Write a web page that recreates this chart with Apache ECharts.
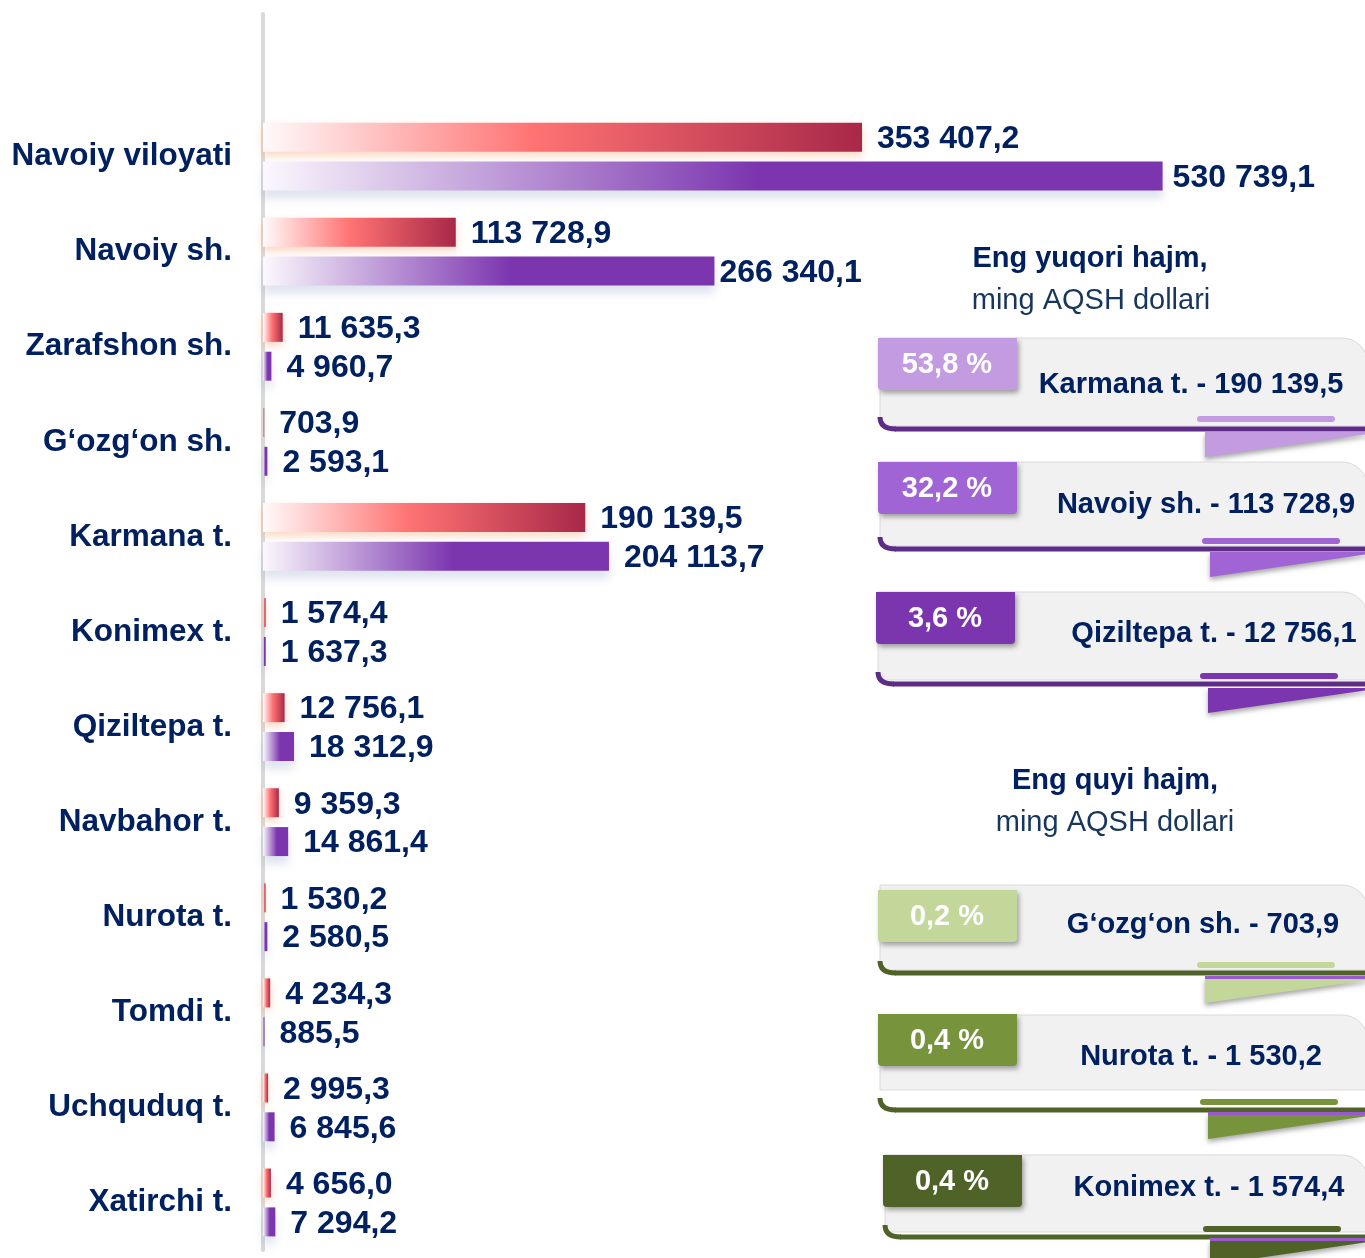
<!DOCTYPE html>
<html>
<head>
<meta charset="utf-8">
<title>Navoiy viloyati</title>
<script src="https://cdn.jsdelivr.net/npm/echarts@6/dist/echarts.min.js"></script>
<style>
  html, body { margin: 0; padding: 0; background: #ffffff; }
  #chart { width: 1365px; height: 1258px; }
</style>
</head>
<body>
<div id="chart"></div>
<script>
// Regions, top to bottom
const regions = [
  'Navoiy viloyati', 'Navoiy sh.', 'Zarafshon sh.', 'G‘ozg‘on sh.', 'Karmana t.',
  'Konimex t.', 'Qiziltepa t.', 'Navbahor t.', 'Nurota t.', 'Tomdi t.',
  'Uchquduq t.', 'Xatirchi t.'
];
// First (red) series, ming AQSH dollari
const volumeRed = [
  353407.2, 113728.9, 11635.3, 703.9, 190139.5,
  1574.4, 12756.1, 9359.3, 1530.2, 4234.3,
  2995.3, 4656.0
];
// Second (purple) series, ming AQSH dollari
const volumePurple = [
  530739.1, 266340.1, 4960.7, 2593.1, 204113.7,
  1637.3, 18312.9, 14861.4, 2580.5, 885.5,
  6845.6, 7294.2
];
// Highlighted regions for the side cards
const highestNames = ['Karmana t.', 'Navoiy sh.', 'Qiziltepa t.'];
const lowestNames = ['G‘ozg‘on sh.', 'Nurota t.', 'Konimex t.'];
const cardTitles = ['Eng yuqori hajm,', 'Eng quyi hajm,'];
const cardSubtitle = 'ming AQSH dollari';

const NAVY = '#002060';
const FONT = '"Liberation Sans", Arial, sans-serif';

function fmt(v) {
  const parts = v.toFixed(1).split('.');
  return parts[0].replace(/\B(?=(\d{3})+(?!\d))/g, ' ') + ',' + parts[1];
}
function pct(v) {
  return (v / volumeRed[0] * 100).toFixed(1).replace('.', ',') + ' %';
}

// labels of the two longest purple bars sit a little closer to the bar end
const purpleLabelGap = { 'Navoiy viloyati': 10, 'Navoiy sh.': 5 };

// empty band on top keeps the axis line running up to the top of the page
const yCats = [''].concat(regions);
const redData = [null].concat(volumeRed);
const purpleData = [null].concat(volumePurple.map((v, i) => {
  const gap = purpleLabelGap[regions[i]];
  return gap == null ? v : { value: v, label: { distance: gap } };
}));

const redGradient = new echarts.graphic.LinearGradient(0, 0, 1, 0, [
  { offset: 0, color: '#fffafa' },
  { offset: 0.45, color: '#ff7373' },
  { offset: 1, color: '#a82848' }
]);
const purpleGradient = new echarts.graphic.LinearGradient(0, 0, 1, 0, [
  { offset: 0, color: '#fbf8fd' },
  { offset: 0.55, color: '#7b35af' },
  { offset: 1, color: '#7b35af' }
]);

const valueLabel = {
  show: true,
  position: 'right',
  distance: 15,
  offset: [0, 2],
  color: NAVY,
  fontFamily: FONT,
  fontWeight: 'bold',
  fontSize: 32,
  formatter: p => (p.value == null ? '' : fmt(p.value))
};

// ---- side cards ----
const cardLayouts = [
  { body: 338, badge: 338, bx: 878, bottom: 426, line: 429, ul: 419, ulx: 1197, tri: 432, tx: 1205, cx: 1191, cy: 385 },
  { body: 462, badge: 462, bx: 878, bottom: 546, line: 549, ul: 541, ulx: 1202, tri: 552, tx: 1210, cx: 1206, cy: 505 },
  { body: 592, badge: 592, bx: 876, bottom: 680, line: 684, ul: 676, ulx: 1200, tri: 688, tx: 1208, cx: 1214, cy: 634 },
  { body: 885, badge: 890, bx: 878, bottom: 970, line: 973, ul: 965, ulx: 1197, tri: 978, tx: 1205, cx: 1203, cy: 925, strip: true },
  { body: 1015, badge: 1014, bx: 878, bottom: 1090, line: 1110, ul: 1102, ulx: 1200, tri: 1114, tx: 1208, cx: 1201, cy: 1057, strip: true },
  { body: 1155, badge: 1155, bx: 883, bottom: 1232, line: 1237, ul: 1229, ulx: 1203, tri: 1240, tx: 1210, cx: 1209, cy: 1188, strip: true }
];
const cardColors = ['#c39be0', '#a064d4', '#7b35af', '#c4d79b', '#77933c', '#4f6228'];
const cardLineColors = ['#5e2b86', '#5e2b86', '#5e2b86', '#4f6228', '#4f6228', '#4f6228'];
const cardNames = highestNames.concat(lowestNames);

const graphics = [];
function addText(text, x, y, size, weight, color) {
  graphics.push({
    type: 'text', z: 20,
    style: {
      text: text, x: x, y: y, fill: color,
      font: weight + ' ' + size + 'px ' + FONT,
      textAlign: 'center', textVerticalAlign: 'middle',
      align: 'center', verticalAlign: 'middle'
    }
  });
}
addText(cardTitles[0], 1090, 259, 29, 'bold', NAVY);
addText(cardSubtitle, 1091, 301, 29, 'normal', '#17365d');
addText(cardTitles[1], 1115, 781, 29, 'bold', NAVY);
addText(cardSubtitle, 1115, 823, 29, 'normal', '#17365d');

cardLayouts.forEach((c, i) => {
  const name = cardNames[i];
  const v = volumeRed[regions.indexOf(name)];
  const col = cardColors[i];
  const lineCol = cardLineColors[i];
  const right = 1368;
  // card body
  graphics.push({
    type: 'rect', z: 10,
    shape: { x: c.bx + 2, y: c.body, width: right - c.bx - 2, height: c.bottom - c.body, r: [0, 26, 0, 0] },
    style: { fill: '#f1f1f1', stroke: '#dadada', lineWidth: 1 }
  });
  // curved bottom edge
  graphics.push({
    type: 'bezierCurve', z: 11,
    shape: { x1: c.bx + 2, y1: c.line - 12, cpx1: c.bx + 2, cpy1: c.line, x2: c.bx + 18, y2: c.line },
    style: { fill: null, stroke: lineCol, lineWidth: 5 }
  });
  graphics.push({
    type: 'line', z: 11,
    shape: { x1: c.bx + 17, y1: c.line, x2: right + 2, y2: c.line },
    style: { stroke: lineCol, lineWidth: 5 }
  });
  // ribbon tail
  if (c.strip) {
    graphics.push({
      type: 'rect', z: 11,
      shape: { x: c.tx, y: c.tri - 2, width: right - c.tx, height: 3 },
      style: { fill: '#9b59d0' }
    });
  }
  graphics.push({
    type: 'polygon', z: 10,
    shape: { points: [[c.tx, c.tri], [right, c.tri], [right, c.tri + 2], [c.tx, c.tri + 25]] },
    style: { fill: col, shadowBlur: 5, shadowOffsetY: 3, shadowColor: 'rgba(0,0,0,0.35)' }
  });
  // underline accent
  graphics.push({
    type: 'rect', z: 12,
    shape: { x: c.ulx, y: c.ul - 3, width: 138, height: 6, r: 3 },
    style: { fill: col }
  });
  // percentage badge
  graphics.push({
    type: 'rect', z: 13,
    shape: { x: c.bx, y: c.badge, width: 139, height: 52, r: [0, 0, 4, 4] },
    style: { fill: col, shadowBlur: 5, shadowOffsetX: 2, shadowOffsetY: 3, shadowColor: 'rgba(0,0,0,0.35)' }
  });
  addText(pct(v), c.bx + 69, c.badge + 27, 29, 'bold', '#ffffff');
  addText(name + ' - ' + fmt(v), c.cx, c.cy, 29, 'bold', NAVY);
});

const chart = echarts.init(document.getElementById('chart'), null, { renderer: 'canvas' });
chart.setOption({
  animation: false,
  backgroundColor: '#ffffff',
  grid: { left: 263, right: 85, top: 14, bottom: 8, containLabel: false },
  xAxis: {
    type: 'value', min: 0, max: 600000, show: false
  },
  yAxis: {
    type: 'category',
    inverse: true,
    offset: 3,
    data: yCats,
    axisLine: { show: true, lineStyle: { color: '#d9d9d9', width: 4 } },
    axisTick: { show: false },
    splitLine: { show: false },
    axisLabel: {
      color: NAVY, fontFamily: FONT, fontWeight: 'bold', fontSize: 31.5, margin: 28,
      padding: [4, 0, 0, 0]
    }
  },
  series: [
    {
      name: 'red', type: 'bar', data: redData, barWidth: 29, barGap: '34%',
      itemStyle: {
        color: redGradient,
        shadowColor: 'rgba(240,140,80,0.35)', shadowBlur: 8, shadowOffsetY: 4
      },
      label: valueLabel
    },
    {
      name: 'purple', type: 'bar', data: purpleData, barWidth: 29,
      itemStyle: {
        color: purpleGradient,
        shadowColor: 'rgba(70,100,160,0.18)', shadowBlur: 10, shadowOffsetY: 8
      },
      label: valueLabel
    }
  ],
  graphic: { elements: graphics }
});
</script>
</body>
</html>
